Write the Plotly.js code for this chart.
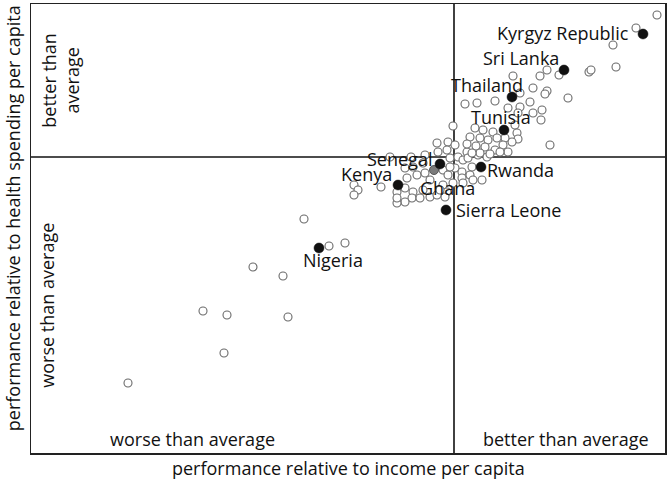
<!DOCTYPE html>
<html>
<head>
<meta charset="utf-8">
<script src="https://cdn.plot.ly/plotly-3.0.1.min.js"></script>
<style>
html,body{margin:0;padding:0;background:#fff;}
#chart{width:667px;height:481px;}
</style>
</head>
<body>
<div id="chart"></div>
<script>
// Performance relative to average (0 = average); x: relative to income, y: relative to health spending
const otherX = [-150,-125,-109,-201,-171,-251,-227,-166,-230,-326,
  -100,-96,-100,-73,
  -64,-43,-29,-17,-6,-7,-16,1,-4,4,-31,-41,-49,-37,-47,-29,-11,-6,1,8,9,18,16,28,19,8,9,-1,-11,-24,-7,-9,-31,-41,-49,-57,-42,-49,-57,-57,-34,-24,-17,13,14,24,33,-14,
  -1,21,29,39,61,63,64,58,51,43,34,26,16,13,22,31,41,49,54,26,36,46,18,96,-4,
  11,23,41,54,66,76,66,79,88,87,64,114,59,86,93,105,79,93,91,135,137,159,162,182,203];
const otherY = [-62,-89,-86,-110,-119,-154,-158,-160,-196,-226,
  -28,-33,-38,-30,
  0,0,2,14,15,7,5,12,-1,0,-6,-10,-11,-18,-21,-16,-13,-18,-11,-15,-3,-10,-18,-23,-23,-21,-26,-26,-28,-23,-35,-40,-33,-35,-31,-35,-41,-45,-46,-41,-41,-40,-38,5,-1,2,0,-33,
  31,29,27,25,32,24,18,15,19,19,17,19,20,13,11,10,7,12,5,4,3,5,4,12,-10,
  53,54,56,49,50,55,64,44,47,37,44,59,81,81,87,82,69,66,63,85,87,112,90,129,142];

const namedCountries = ["Kyrgyz Republic","Sri Lanka","Thailand","Tunisia","Senegal","Kenya","Rwanda","Sierra Leone","Nigeria"];
const namedX = [189,110,58,50,-14,-56,27,-8,-135];
const namedY = [123,87,60,27,-7,-28,-10,-53,-91];

const ghanaName = ["Ghana"];
const ghanaX = [-20];
const ghanaY = [-13];

const quadrantLabels = ["better than<br>average","worse than average","worse than average","better than average"];
const xAxisTitle = "performance relative to income per capita";
const yAxisTitle = "performance relative to health spending per capita";

const FONT = "Open Sans, sans-serif";
const TXT = "#111111";

const traces = [
  {x: otherX, y: otherY, type: "scatter", mode: "markers", hoverinfo: "skip",
   marker: {symbol: "circle", size: 8, color: "#ffffff", line: {color: "#6a6a6a", width: 1.1}}},
  {x: ghanaX, y: ghanaY, text: ghanaName, type: "scatter", mode: "markers",
   marker: {symbol: "circle", size: 9, color: "#7a7a7a", line: {color: "#555555", width: 1}}},
  {x: namedX, y: namedY, text: namedCountries, type: "scatter", mode: "markers",
   marker: {symbol: "circle", size: 10, color: "#111111", line: {color: "#111111", width: 0.5}}}
];

// label offsets (pixels) relative to each labeled point
const labelStyle = {
  "Kyrgyz Republic": {xanchor: "right", xshift: -13, yshift: 1},
  "Sri Lanka": {xanchor: "right", xshift: -4, yshift: 12},
  "Thailand": {xanchor: "right", xshift: 12, yshift: 12},
  "Tunisia": {xanchor: "center", xshift: -3, yshift: 13},
  "Senegal": {xanchor: "right", xshift: -7, yshift: 5},
  "Kenya": {xanchor: "right", xshift: -5, yshift: 11},
  "Rwanda": {xanchor: "left", xshift: 5, yshift: -3},
  "Sierra Leone": {xanchor: "left", xshift: 9, yshift: 0},
  "Nigeria": {xanchor: "left", xshift: -17, yshift: -12},
  "Ghana": {xanchor: "left", xshift: -15, yshift: -18}
};

const annotations = [];
function addLabel(name, x, y) {
  const s = labelStyle[name];
  annotations.push({x: x, y: y, xref: "x", yref: "y", text: name, showarrow: false,
    xanchor: s.xanchor, yanchor: "middle", xshift: s.xshift, yshift: s.yshift, borderpad: 0,
    font: {family: FONT, size: 18, color: TXT}});
}
namedCountries.forEach((n, i) => addLabel(n, namedX[i], namedY[i]));
addLabel(ghanaName[0], ghanaX[0], ghanaY[0]);

const qFont = {family: FONT, size: 18, color: TXT};
annotations.push({xref: "paper", yref: "paper", x: 0.047, y: 0.831, text: quadrantLabels[0], showarrow: false,
  textangle: -90, xanchor: "center", yanchor: "middle", font: qFont});
annotations.push({xref: "paper", yref: "paper", x: 0.025, y: 0.33, text: quadrantLabels[1], showarrow: false,
  textangle: -90, xanchor: "center", yanchor: "middle", font: qFont});
annotations.push({xref: "paper", yref: "paper", x: 0.254, y: 0.031, text: quadrantLabels[2], showarrow: false,
  xanchor: "center", yanchor: "middle", font: qFont});
annotations.push({xref: "paper", yref: "paper", x: 0.844, y: 0.031, text: quadrantLabels[3], showarrow: false,
  xanchor: "center", yanchor: "middle", font: qFont});
annotations.push({xref: "paper", yref: "paper", x: 0.5, y: 0, text: xAxisTitle, showarrow: false,
  xanchor: "center", yanchor: "middle", yshift: -15, borderpad: 0, font: qFont});
annotations.push({xref: "paper", yref: "paper", x: 0, y: 0.523, text: yAxisTitle, showarrow: false,
  textangle: -90, xanchor: "center", yanchor: "middle", xshift: -18, borderpad: 0, font: qFont});

const layout = {
  width: 667, height: 481,
  margin: {l: 31, r: 2, t: 4, b: 28, pad: 0},
  paper_bgcolor: "#ffffff", plot_bgcolor: "#ffffff",
  showlegend: false,
  font: {family: FONT},
  xaxis: {range: [-423, 211], showgrid: false, zeroline: false, showticklabels: false, ticks: "",
          showline: true, mirror: true, linecolor: "#222222", linewidth: 1.5, fixedrange: true},
  yaxis: {range: [-296, 153], showgrid: false, zeroline: false, showticklabels: false, ticks: "",
          showline: true, mirror: true, linecolor: "#222222", linewidth: 1.5, fixedrange: true},
  shapes: [
    {type: "line", xref: "x", yref: "paper", x0: 0, x1: 0, y0: 0, y1: 1, layer: "below",
     line: {color: "#111111", width: 1.6}},
    {type: "line", xref: "paper", yref: "y", x0: 0, x1: 1, y0: 0, y1: 0, layer: "below",
     line: {color: "#111111", width: 1.6}}
  ],
  annotations: annotations
};

Plotly.newPlot("chart", traces, layout, {displayModeBar: false, staticPlot: true});
</script>
</body>
</html>
